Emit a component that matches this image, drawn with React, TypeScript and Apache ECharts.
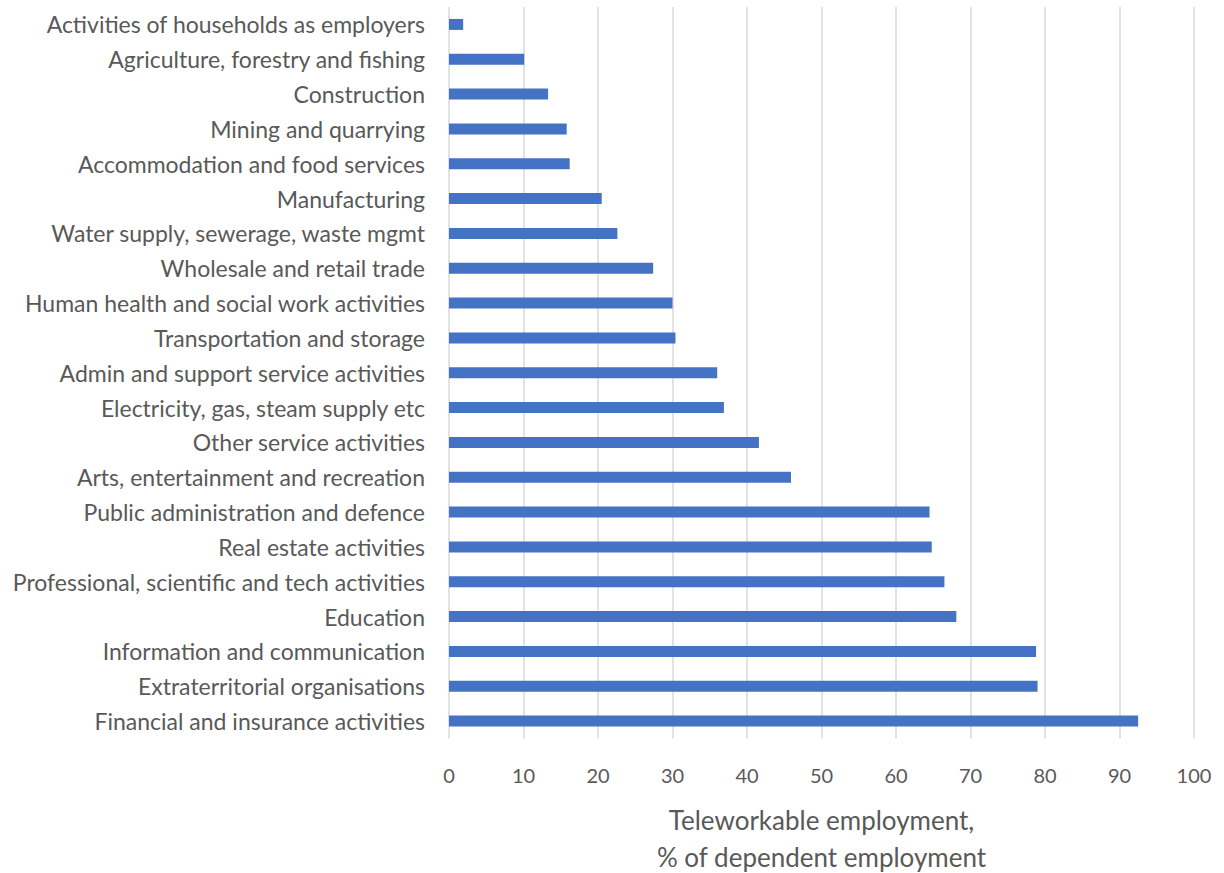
import React, { useEffect, useRef } from "react";
import * as echarts from "echarts";

const categories = [
  "Activities of households as employers",
  "Agriculture, forestry and fishing",
  "Construction",
  "Mining and quarrying",
  "Accommodation and food services",
  "Manufacturing",
  "Water supply, sewerage, waste mgmt",
  "Wholesale and retail trade",
  "Human health and social work activities",
  "Transportation and storage",
  "Admin and support service activities",
  "Electricity, gas, steam supply etc",
  "Other service activities",
  "Arts, entertainment and recreation",
  "Public administration and defence",
  "Real estate activities",
  "Professional, scientific and tech activities",
  "Education",
  "Information and communication",
  "Extraterritorial organisations",
  "Financial and insurance activities",
];

const values = [
  1.9, 10.1, 13.3, 15.8, 16.2, 20.5, 22.6, 27.4, 30.0, 30.4, 36.0, 36.9, 41.6,
  45.9, 64.5, 64.8, 66.5, 68.1, 78.8, 79.0, 92.5,
];

const axisName = "Teleworkable employment,\n% of dependent employment";
const FONT = "Lato";

export default function App() {
  const ref = useRef<HTMLDivElement>(null);
  useEffect(() => {
    if (!ref.current) return;
    const chart = echarts.init(ref.current, null, { renderer: "svg" });
    chart.setOption({
      animation: false,
      backgroundColor: "#ffffff",
      grid: {
        left: 449,
        right: 30,
        top: 7,
        bottom: 134.5,
        containLabel: false,
        outerBoundsMode: "none",
      },
      xAxis: {
        type: "value",
        min: 0,
        max: 100,
        interval: 10,
        axisLine: { show: false },
        axisTick: { show: false },
        splitLine: { lineStyle: { color: "#d9d9d9", width: 1.5 } },
        axisLabel: {
          color: "#595959",
          fontSize: 20,
          fontFamily: FONT,
          margin: 26,
        },
        name: axisName,
        nameLocation: "middle",
        nameGap: 63,
        nameTextStyle: {
          color: "#595959",
          fontSize: 26,
          fontFamily: FONT,
          lineHeight: 37,
        },
      },
      yAxis: {
        type: "category",
        data: categories,
        inverse: true,
        axisLine: { show: false },
        axisTick: { show: false },
        axisLabel: {
          color: "#595959",
          fontSize: 23,
          fontFamily: FONT,
          margin: 24,
        },
      },
      series: [
        {
          type: "bar",
          data: values,
          barWidth: 11,
          itemStyle: { color: "#4472c4" },
        },
      ],
    });
    return () => chart.dispose();
  }, []);
  return (
    <div
      ref={ref}
      style={{ position: "fixed", left: 0, top: 0, width: 1224, height: 873 }}
    />
  );
}
